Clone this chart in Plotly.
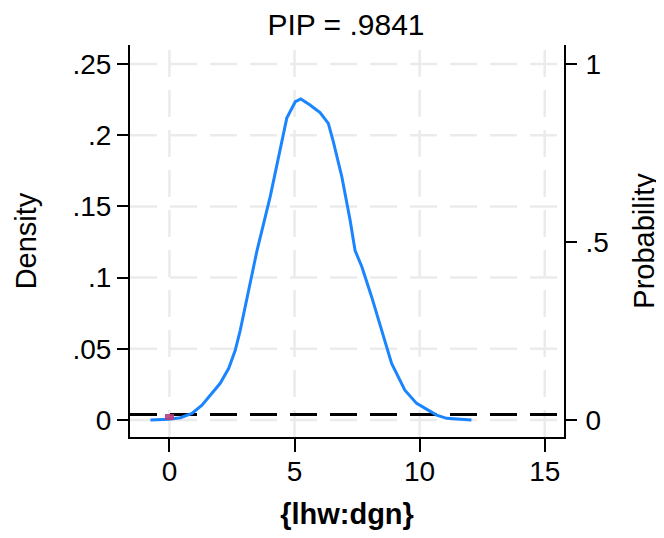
import plotly.graph_objects as go

# ---- data ----
coef_x = [-0.76, -0.03, 0.44, 0.9, 1.3, 1.7, 2.03, 2.37, 2.63, 2.83, 3.1, 3.3, 3.5,
          4.03, 4.69, 5.03, 5.25, 5.62, 6.02, 6.35, 6.55, 6.89, 7.22, 7.42, 7.69,
          8.08, 8.48, 8.88, 9.41, 9.88, 10.34, 10.68, 11.08, 12.07]
density = [0.0, 0.0005, 0.0016, 0.0047, 0.0105, 0.0187, 0.0258, 0.0363, 0.049, 0.063,
           0.0866, 0.103, 0.119, 0.157, 0.212, 0.2235, 0.2254, 0.2212, 0.2158, 0.2083,
           0.1954, 0.1708, 0.1404, 0.119, 0.1076, 0.0866, 0.063, 0.0398, 0.021, 0.0117,
           0.007, 0.0035, 0.0012, 0.0]
pip = 0.9841
zero_x = [0]
zero_prob = [1 - pip]

x_ticks = [0, 5, 10, 15]
x_ticklabels = ["0", "5", "10", "15"]
d_ticks = [0, 0.05, 0.1, 0.15, 0.2, 0.25]
d_ticklabels = ["0", ".05", ".1", ".15", ".2", ".25"]
p_ticks = [0, 0.5, 1]
p_ticklabels = ["0", ".5", "1"]

title_text = "PIP = .9841"
x_title = "{lhw:dgn}"

# ---- styling ----
FONT = "Liberation Sans, Arial, Helvetica, sans-serif"
x_range = [-1.576, 15.77]
d_range = [-0.0119, 0.2633]
p_range = [-0.0476, 1.0532]
grid_col = "#ebebeb"
dash = "27px,13px"
W, H = 664, 538
OFF = 8  # page body margin offset

fig = go.Figure()

fig.add_trace(go.Scatter(x=coef_x, y=density, mode="lines",
                         line=dict(color="#1a85ff", width=3), showlegend=False,
                         hoverinfo="skip"))
fig.add_trace(go.Bar(x=zero_x, y=zero_prob, width=0.34, yaxis="y2",
                     marker=dict(color="rgba(185,60,130,0.9)", line=dict(width=0)),
                     showlegend=False, hoverinfo="skip"))

shapes = []
for t in x_ticks:
    shapes.append(dict(type="line", xref="x", yref="paper", x0=t, x1=t, y0=0, y1=1,
                       line=dict(color=grid_col, width=2.5, dash=dash), layer="below"))
for t in d_ticks:
    shapes.append(dict(type="line", xref="paper", yref="y", x0=0, x1=1, y0=t, y1=t,
                       line=dict(color=grid_col, width=2.5, dash=dash), layer="below"))
shapes.append(dict(type="line", xref="paper", yref="y2", x0=0, x1=1,
                   y0=zero_prob[0], y1=zero_prob[0],
                   line=dict(color="black", width=3, dash=dash), layer="below"))

axis_common = dict(showgrid=False, zeroline=False, showline=True, linecolor="black",
                   linewidth=2, ticks="outside", tickcolor="black", tickwidth=2,
                   tickfont=dict(family=FONT, size=28, color="black"))

plot_l, plot_r, plot_t, plot_b = 129.5, 564.3, 45, 437

fig.update_layout(
    width=W, height=H,
    margin=dict(l=plot_l - OFF, r=W - (plot_r - OFF), t=plot_t - OFF,
                b=H - (plot_b - OFF), pad=0, autoexpand=False),
    paper_bgcolor="white", plot_bgcolor="white",
    font=dict(family=FONT, color="black"),
    title=dict(text=title_text, x=(346 - OFF) / W, xanchor="center",
               y=1 - (24 - OFF) / H, yanchor="middle", yref="container",
               font=dict(family=FONT, size=30, color="black")),
    xaxis=dict(range=x_range, tickvals=x_ticks, ticktext=x_ticklabels, ticklen=13,
               ticklabelstandoff=-5,
               title=dict(text="<b>" + x_title + "</b>", standoff=18,
                          font=dict(family=FONT, size=29, color="black")),
               **axis_common),
    yaxis=dict(range=d_range, tickvals=d_ticks, ticktext=d_ticklabels, ticklen=11,
               title=dict(text="Density", standoff=27,
                          font=dict(family=FONT, size=29, color="black")),
               **axis_common),
    yaxis2=dict(range=p_range, tickvals=p_ticks, ticktext=p_ticklabels, ticklen=11,
                overlaying="y", side="right", anchor="x", ticklabelstandoff=3,
                title=dict(text="Probability", standoff=26,
                           font=dict(family=FONT, size=29, color="black")),
                **axis_common),
    shapes=shapes,
    bargap=0,
)

fig.write_html("out.html")
